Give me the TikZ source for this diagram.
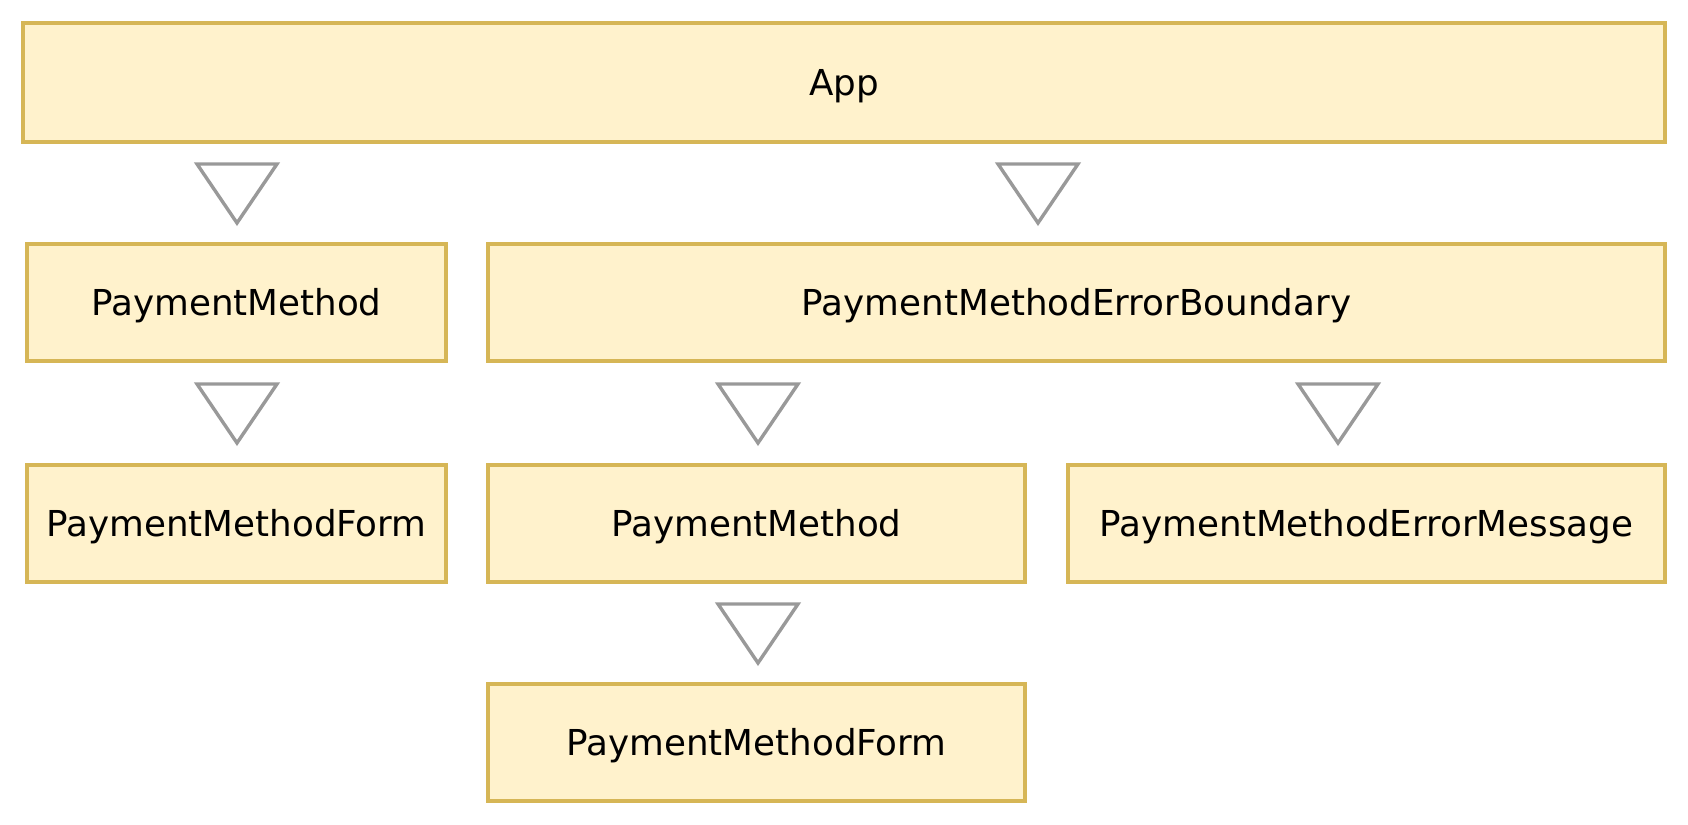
\documentclass[tikz,border=0pt]{standalone}
\usepackage{fontspec}
\setmainfont{DejaVu Sans}
\usetikzlibrary{positioning}

\definecolor{boxfill}{HTML}{FFF2CC}
\definecolor{boxline}{HTML}{D6B656}
\definecolor{triline}{HTML}{999999}

\begin{document}
\begin{tikzpicture}[
    x=1pt, y=-1pt,
    comp/.style={rectangle, draw=boxline, fill=boxfill, line width=4pt, minimum height=117pt, inner sep=0pt, text height=26pt, text depth=0pt, font=\fontsize{35.7}{42}\selectfont},
    tri/.style={draw=triline, line width=3.4pt, line join=miter}
]
    \useasboundingbox (0,0) rectangle (1688,824);

    % Components
    \node [comp, minimum width=1642pt, minimum height=119pt] (app) at (844,82.5) {App};
    \node [comp, minimum width=419pt] (method) at (236.5,302.5) {PaymentMethod};
    \node [comp, minimum width=1177pt] (boundary) at (1076.5,302.5) {PaymentMethodErrorBoundary};
    \node [comp, minimum width=419pt] (form) at (236.5,523) {PaymentMethodForm};
    \node [comp, minimum width=537pt] (innermethod) at (756.5,523) {PaymentMethod};
    \node [comp, minimum width=597pt] (errmsg) at (1366.5,523) {PaymentMethodErrorMessage};
    \node [comp, minimum width=537pt] (innerform) at (756.5,742) {PaymentMethodForm};

    % Child markers
    \foreach \tx/\ty in {237/164, 1038/164, 237/384, 758/384, 1338/384, 758/604}
        \draw [tri] (\tx-40,\ty) -- (\tx+40,\ty) -- (\tx,\ty+59) -- cycle;

\end{tikzpicture}
\end{document}
